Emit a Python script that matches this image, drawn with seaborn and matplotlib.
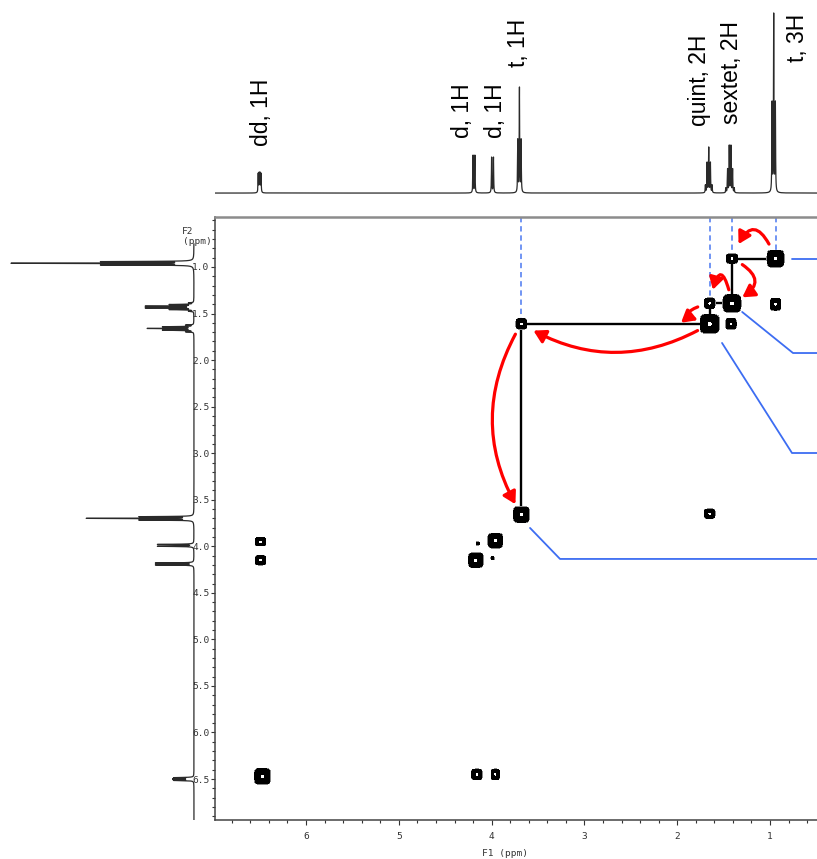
import numpy as np
import seaborn as sns
import matplotlib.pyplot as plt
from matplotlib.patches import FancyArrowPatch, ArrowStyle
from matplotlib.ticker import FormatStrFormatter

# 1H signals shown in both projections
shift_ppm = [6.50, 4.19, 3.99, 3.70, 1.66, 1.43, 0.96]
rel_height = [0.117, 0.211, 0.200, 0.589, 0.256, 0.267, 1.0]
multiplet = ['dd', 'd', 'd', 't', 'quint', 'sextet', 't']
line_gap_ppm = [0.010, 0.020, 0.020, 0.018, 0.018, 0.018, 0.018]
signal_label = ['dd, 1H', 'd, 1H', 'd, 1H', 't, 1H', 'quint, 2H', 'sextet, 2H', 't, 3H']
pattern = {'d': [1, 1], 'dd': [1, 1, 1, 1], 't': [1, 2, 1],
           'quint': [1, 4, 6, 4, 1], 'sextet': [1, 5, 10, 10, 5, 1]}

# COSY contour peaks (F1, F2 in ppm) and their half extents
cosy_f1 = [0.94, 1.41, 1.41, 1.65, 1.65, 1.42, 0.94, 3.68, 3.68, 1.65,
           3.96, 4.17, 4.15, 3.99, 6.49, 6.49, 6.47, 4.16, 3.96]
cosy_f2 = [0.91, 0.91, 1.39, 1.39, 1.61, 1.61, 1.40, 1.61, 3.66, 3.65,
           3.94, 4.15, 3.97, 4.13, 3.95, 4.15, 6.47, 6.45, 6.45]
cosy_half_f1 = [0.086, 0.059, 0.091, 0.054, 0.097, 0.054, 0.054, 0.054, 0.081, 0.054,
                0.075, 0.075, 0.016, 0.016, 0.054, 0.054, 0.081, 0.054, 0.043]
cosy_half_f2 = [0.086, 0.048, 0.091, 0.054, 0.097, 0.054, 0.062, 0.054, 0.081, 0.048,
                0.075, 0.075, 0.016, 0.016, 0.043, 0.048, 0.081, 0.054, 0.054]
cosy_amp = [1.0, 1.0, 1.0, 1.0, 1.0, 1.0, 1.0, 1.0, 1.0, 1.0,
            1.0, 1.0, 0.9, 0.9, 1.0, 1.0, 1.0, 1.0, 1.0]

# spin-system walk through the peak list (indices)
walk = [0, 1, 2, 3, 4, 7, 8]
arrow_from = [0, 1, 2, 3, 4, 7]
arrow_to = [1, 2, 3, 4, 7, 8]
arrow_rad = [1.3, -1.0, 2.5, 2.0, -0.3, 0.3]
arrow_gap_pt = [11.5, 8.6, 10.0, 9.0, 10.0, 8.6]
guide_idx = [7, 3, 1, 0]

# label placement in the top projection
label_x = [6.485, 4.31, 3.963, 3.705, 1.765, 1.42, 0.70]
label_base = [0.261, 0.306, 0.306, 0.70, 0.372, 0.383, 0.728]

# leader lines to the (cropped) structure on the right
leaders = [[(0.76, 0.914), (0.40, 0.914)],
           [(1.30, 1.483), (0.752, 1.924), (0.40, 1.924)],
           [(1.517, 1.816), (0.763, 2.998), (0.40, 2.998)],
           [(3.586, 3.803), (3.263, 4.136), (0.40, 4.136)]]

# ---- projection trace from the signal list ----
ppm_axis = np.linspace(0.3, 7.2, 40000)
gamma = 0.0025
spec = np.zeros_like(ppm_axis)
for c, h, m, g in zip(shift_ppm, rel_height, multiplet, line_gap_ppm):
    w = np.array(pattern[m], float)
    offs = (np.arange(len(w)) - (len(w) - 1) / 2) * g
    s = np.zeros_like(ppm_axis)
    for wi, o in zip(w, offs):
        s += wi * gamma ** 2 / ((ppm_axis - c - o) ** 2 + gamma ** 2)
    spec += h * s / s.max()

# ---- 2D surface from the peak list ----
g1 = np.linspace(0.40, 7.0, 1600)
g2 = np.linspace(0.40, 7.0, 1600)
Z = np.zeros((len(g2), len(g1)))
for f1, f2, h1, h2, a in zip(cosy_f1, cosy_f2, cosy_half_f1, cosy_half_f2, cosy_amp):
    s1, s2 = h1 / 1.0475, h2 / 1.0475
    Z += a * np.outer(np.exp(-((g2 - f2) / s2) ** 4), np.exp(-((g1 - f1) / s1) ** 4))

sns.set_style("white")
plt.rcParams['font.family'] = ['Liberation Sans', 'DejaVu Sans']

W, H = 817, 859
fig = plt.figure(figsize=(W / 100, H / 100), dpi=100)
XL = (6.981, 0.4935)
YL = (6.94, 0.463)

ax_left = fig.add_axes([0, (H - 820) / H, 215 / W, 603 / H])
ax_top = fig.add_axes([215 / W, (H - 217) / H, 602 / W, 217 / H])
ax = fig.add_axes([215 / W, (H - 820) / H, 602 / W, 603 / H])

trace_col = '#2a2a2a'

# top (F1) projection
m = (ppm_axis <= XL[0]) & (ppm_axis >= XL[1])
sns.lineplot(x=ppm_axis[m], y=spec[m], ax=ax_top, color=trace_col, lw=0.9,
             sort=False, estimator=None)
ax_top.set_xlim(XL)
ax_top.set_ylim(-0.133, 1.072)
ax_top.axis('off')
for lbl, lx, lb in zip(signal_label, label_x, label_base):
    ax_top.text(lx, lb, lbl, rotation=90, ha='center', va='bottom',
                fontsize=16.5, color='black')

# left (F2) projection
m = (ppm_axis >= 0.75) & (ppm_axis <= YL[0])
sns.lineplot(x=spec[m], y=ppm_axis[m], ax=ax_left, color=trace_col, lw=0.9,
             sort=False, estimator=None, orient='y')
ax_left.set_xlim(1.060, -0.115)
ax_left.set_ylim(YL)
ax_left.axis('off')

# 2D COSY map
ax.contourf(g1, g2, Z, levels=[0.2, 0.3, 0.9993, 10],
            colors=['#8a8a8a', 'black', 'white'], zorder=3)
ax.set_xlim(XL)
ax.set_ylim(YL)

wx = [cosy_f1[i] for i in walk]
wy = [cosy_f2[i] for i in walk]
ax.plot(wx, wy, color='black', lw=1.7, zorder=2, solid_capstyle='butt')

for i in guide_idx:
    ax.vlines(cosy_f1[i], YL[1], cosy_f2[i], colors='#4a78f0', lw=1.1,
              linestyles=(0, (3.5, 2.5)), zorder=1)

for seg in leaders:
    xs, ys = zip(*seg)
    ax.plot(xs, ys, color='#3d6df2', lw=1.3, zorder=4)

astyle = ArrowStyle('-|>', head_length=0.55, head_width=0.32)
for a, b, r, gap in zip(arrow_from, arrow_to, arrow_rad, arrow_gap_pt):
    arr = FancyArrowPatch((cosy_f1[a], cosy_f2[a]), (cosy_f1[b], cosy_f2[b]),
                          transform=ax.transData, connectionstyle=f'arc3,rad={r}',
                          arrowstyle=astyle, mutation_scale=13, lw=2.3,
                          color='#ff0000', shrinkA=gap, shrinkB=gap, zorder=6)
    ax.add_patch(arr)

# frame and ticks
for side in ['left', 'bottom']:
    ax.spines[side].set_color('#444444')
    ax.spines[side].set_linewidth(1.1)
ax.spines['top'].set_color('#8c8c8c')
ax.spines['top'].set_linewidth(1.8)
ax.spines['right'].set_visible(False)

ax.set_xticks(np.arange(1, 7))
ax.set_xticks(np.arange(0.6, 7.0, 0.2), minor=True)
ax.set_yticks(np.arange(1.0, 6.6, 0.5))
ax.set_yticks(np.arange(0.5, 6.95, 0.1), minor=True)
ax.xaxis.set_major_formatter(FormatStrFormatter('%d'))
ax.yaxis.set_major_formatter(FormatStrFormatter('%.1f'))
ax.tick_params(axis='x', which='major', direction='out', length=3.6, width=0.8,
               pad=5, labelsize=6.8, colors='#333333', labelfontfamily='DejaVu Sans Mono',
               bottom=True)
ax.tick_params(axis='x', which='minor', direction='out', length=2.2, width=0.8,
               colors='#333333', bottom=True)
ax.tick_params(axis='y', which='major', direction='out', length=3.0, width=0.8,
               pad=1, labelsize=6.8, colors='#333333', labelfontfamily='DejaVu Sans Mono',
               left=True)
ax.tick_params(axis='y', which='minor', direction='out', length=2.0, width=0.8,
               colors='#333333', left=True)
ax.set_xlabel('')
ax.set_ylabel('')

fig.text(505 / W, 1 - 853 / H, 'F1 (ppm)', ha='center', va='center',
         fontsize=6.8, family='DejaVu Sans Mono', color='#333333')
fig.text(188 / W, 1 - 231 / H, 'F2', ha='center', va='center',
         fontsize=6.8, family='DejaVu Sans Mono', color='#333333')
fig.text(212 / W, 1 - 242 / H, '(ppm)', ha='right', va='center',
         fontsize=6.8, family='DejaVu Sans Mono', color='#333333')

fig.savefig('out.png', dpi=100)
